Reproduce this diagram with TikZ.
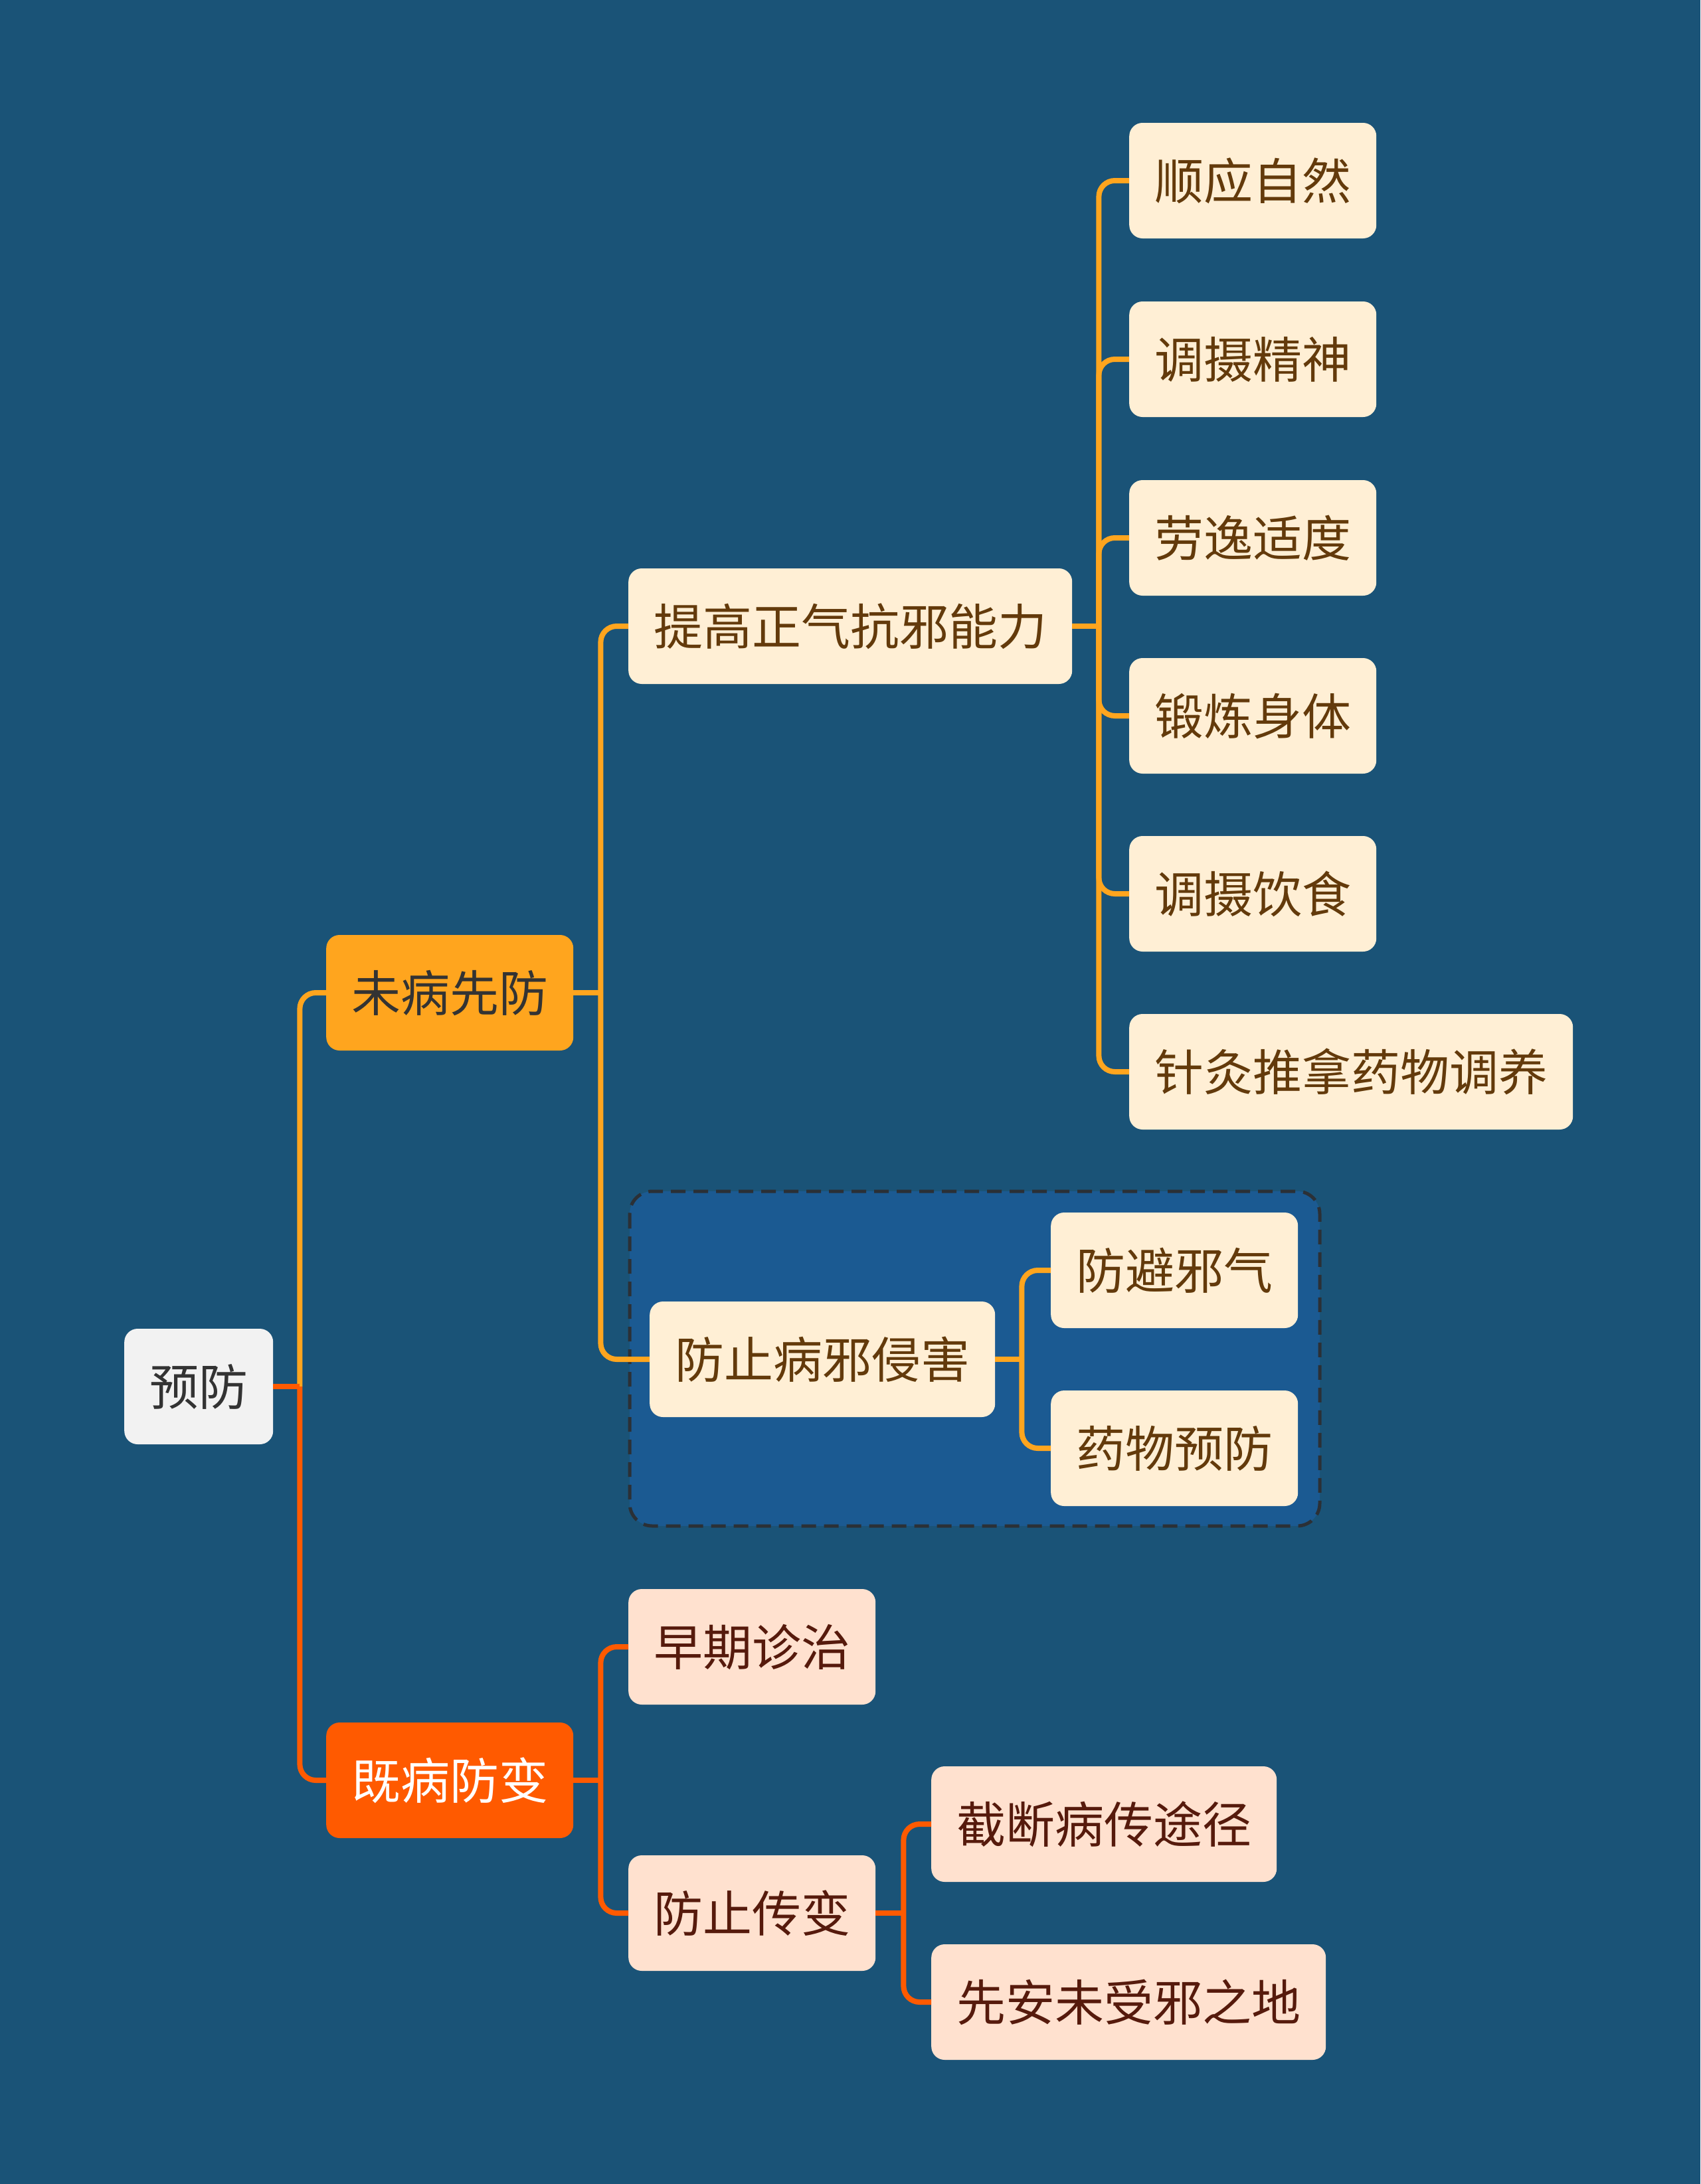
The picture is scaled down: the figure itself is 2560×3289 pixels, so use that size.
\documentclass[tikz,border=0pt]{standalone}
\usepackage{fontspec}
\newfontfamily\cjk{Noto Sans CJK SC}
\definecolor{bg}{HTML}{1A5377}
\definecolor{boxblue}{HTML}{1B5A92}
\definecolor{dashc}{HTML}{2B3036}
\definecolor{orng}{HTML}{FFA51E}
\definecolor{redo}{HTML}{FF5A00}
\definecolor{cream}{HTML}{FFEFD5}
\definecolor{peach}{HTML}{FFE1CF}
\definecolor{browntxt}{HTML}{633A0B}
\definecolor{redtxt}{HTML}{561A0C}
\definecolor{rootfill}{HTML}{F2F2F2}
\definecolor{darktxt}{HTML}{333333}
\tikzset{
  base/.style={rounded corners=20pt, inner xsep=38pt, inner ysep=0pt, minimum height=174pt,
    anchor=west, font=\cjk\fontsize{74}{80}\selectfont, text height=65pt, text depth=9pt},
  rootbox/.style={base, fill=rootfill, text=darktxt},
  topo/.style={base, fill=orng, text=darktxt},
  topr/.style={base, fill=redo, text=white},
  leafo/.style={base, fill=cream, text=browntxt},
  leafr/.style={base, fill=peach, text=redtxt},
  lo/.style={draw=orng, line width=8pt, rounded corners=24pt},
  lr/.style={draw=redo, line width=8pt, rounded corners=24pt},
}
\begin{document}
\begin{tikzpicture}[x=1pt,y=-1pt]
\useasboundingbox (0,0) rectangle (2560,3289);
\fill[bg] (0,0) rectangle (2560,3289);
% dashed group
\draw[fill=boxblue, draw=dashc, line width=5pt, dash pattern=on 22pt off 12pt, rounded corners=34pt]
  (948,1794) rectangle (1987,2298);
% nodes
\node[rootbox] (root) at (187,2088) {预防};
\node[topo] (wb) at (491,1495) {未病先防};
\node[topr] (jb) at (491,2681) {既病防变};
\node[leafo] (tg) at (946,943) {提高正气抗邪能力};
\node[leafo] (a1) at (1700,272) {顺应自然};
\node[leafo] (a2) at (1700,541) {调摄精神};
\node[leafo] (a3) at (1700,810) {劳逸适度};
\node[leafo] (a4) at (1700,1078) {锻炼身体};
\node[leafo] (a5) at (1700,1346) {调摄饮食};
\node[leafo] (a6) at (1700,1614) {针灸推拿药物调养};
\node[leafo] (fz) at (978,2047) {防止病邪侵害};
\node[leafo] (b1) at (1582,1913) {防避邪气};
\node[leafo] (b2) at (1582,2181) {药物预防};
\node[leafr] (zq) at (946,2480) {早期诊治};
\node[leafr] (fc) at (946,2881) {防止传变};
\node[leafr] (c1) at (1402,2747) {截断病传途径};
\node[leafr] (c2) at (1402,3015) {先安未受邪之地};
% junction points
\path (root.east) ++(40,0) coordinate (jr);
\path (wb.east) ++(41,0) coordinate (jw);
\path (tg.east) ++(40,0) coordinate (jt);
\path (fz.east) ++(40,0) coordinate (jf);
\path (jb.east) ++(41,0) coordinate (jj);
\path (fc.east) ++(42,0) coordinate (jc);
% connectors
\draw[lo] (jr) |- (wb.west);
\draw[lr] (jr) |- (jb.west);
\draw[lr] (root.east) -- (jr);
\foreach \t in {tg,fz} \draw[lo] (jw) |- (\t.west);
\draw[lo] (wb.east) -- (jw);
\foreach \t in {a1,a2,a3,a4,a5,a6} \draw[lo] (jt) |- (\t.west);
\draw[lo] (tg.east) -- (jt);
\foreach \t in {b1,b2} \draw[lo] (jf) |- (\t.west);
\draw[lo] (fz.east) -- (jf);
\foreach \t in {zq,fc} \draw[lr] (jj) |- (\t.west);
\draw[lr] (jb.east) -- (jj);
\foreach \t in {c1,c2} \draw[lr] (jc) |- (\t.west);
\draw[lr] (fc.east) -- (jc);
\end{tikzpicture}
\end{document}
